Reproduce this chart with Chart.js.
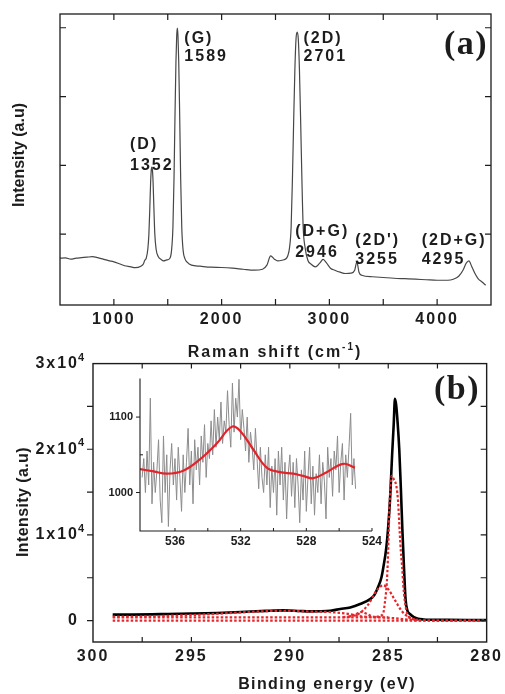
<!DOCTYPE html>
<html><head><meta charset="utf-8">
<script src="https://cdn.jsdelivr.net/npm/chart.js@4.4.1/dist/chart.umd.min.js"></script>
<style>
html,body{margin:0;padding:0;background:#fff;}
#wrap{position:relative;width:505px;height:694px;overflow:hidden;background:#fff;}
canvas{position:absolute;}
#ca{left:0;top:0;}
#cb{left:0;top:340px;}
#ci{left:95px;top:365px;}
</style></head><body>
<div id="wrap">
<canvas id="ca" width="505" height="370"></canvas>
<canvas id="cb" width="505" height="354"></canvas>
<canvas id="ci" width="290" height="190"></canvas>
</div>
<script>
// ---------- Panel (a): Raman spectrum ----------
const ramanShift = [500,550,600,650,700,750,800,850,900,950,1000,1050,1100,1150,1200,1250,1275,1285,1300,1315,1325,1334,1341,1347,1352,1358,1364,1371,1380,1392,1410,1440,1460,1490,1520,1535,1548,1558,1567,1576,1583,1589,1595,1602,1611,1620,1630,1643,1660,1680,1720,1800,1900,2000,2100,2200,2300,2380,2420,2455,2490,2520,2560,2600,2615,2630,2645,2657,2668,2680,2691,2701,2711,2722,2734,2745,2757,2775,2800,2830,2870,2910,2942,2975,3010,3050,3100,3150,3200,3235,3255,3275,3300,3400,3500,3600,3700,3800,3900,4000,4100,4150,4200,4240,4270,4295,4320,4350,4380,4420,4450];
const ramanIntensity = [651,655,636,651,658,665,672,658,636,614,597,570,541,527,512,534,570,615,650,780,1000,1400,1750,1930,1975,1930,1750,1400,1000,780,680,630,612,625,650,760,1100,1800,2700,3500,3880,3995,3880,3500,2700,1800,1100,760,640,592,549,534,520,515,505,490,476,490,549,684,636,611,621,646,690,800,1100,1800,2600,3400,3850,3937,3850,3400,2600,1800,1100,800,621,563,524,578,632,578,505,476,447,428,432,476,597,447,403,381,370,359,352,345,337,330,330,345,388,476,578,611,534,432,355,301,257];
const ramanTickValues = [1000,2000,3000,4000];
const peakNames = ['(D)','(G)','(2D)','(D+G)',"(2D')",'(2D+G)'];
const peakPositions = ['1352','1589','2701','2946','3255','4295'];

// ---------- Panel (b): XPS C1s ----------
const xpsEnergy = [299,298,297,296.2,295,293.7,292.5,291.2,290.3,289.5,289,288.5,287.95,287.44,286.93,286.43,285.92,285.7,285.5,285.35,285.25,285.1,285.0,284.9,284.8,284.72,284.66,284.6,284.52,284.44,284.36,284.28,284.2,284.12,284.03,283.9,283.7,283.48,283.2,282.8,282,281,280];
const xpsEnvelope = [690,700,730,775,820,890,1000,1130,1190,1120,1075,1090,1156,1350,1540,1930,2500,3000,4000,5000,6200,8500,11000,14500,19500,23000,25900,25200,23000,20000,15500,10500,6200,2500,1200,780,400,200,130,100,80,60,50];
const fitC1Energy = [285.6,285.4,285.25,285.15,285.07,285.02,284.98,284.94,284.89,284.83,284.72,284.58,284.5,284.41,284.36,284.29,284.24,284.16,284.03,283.8,283.5];
const fitC1 = [420,550,900,2500,4500,7000,10000,13000,15500,16900,16500,15600,13870,10020,8090,6160,4240,2312,775,250,80];
const fitC2Energy = [287.0,286.5,286.0,285.6,285.25,285.0,284.66,284.33,284.0,283.8,283.5];
const fitC2 = [450,780,1930,3470,4120,3660,2390,1160,450,200,80];
const fitC3Energy = [287.3,286.9,286.6,286.35,286.1,285.85,285.6];
const fitC3 = [400,520,800,1000,800,520,420];
const fitC4Energy = [299,297,296.2,295,293.7,292.5,291.2,290.3,289.5,289,288.5,288,287.5,287,286.4,285.9,285.4,285];
const fitC4 = [460,500,560,640,800,950,1100,1150,1100,1050,1030,1000,900,775,500,420,390,385];
const bgEnergy = [299,287,285.8,285.3,284.8,284.3,283.8,283.3,282.5,280];
const bgValues = [385,385,380,360,300,180,60,20,5,0];
const zeroEnergy = [299,280];
const zeroValues = [0,0];
const xpsTickValuesX = [300,295,290,285,280];
const xpsTickValuesY = [0,10000,20000,30000];
const xpsTickMantissa = ['0','1x10','2x10','3x10'];
const xpsTickExponent = ['','4','4','4'];

// ---------- Inset: O1s region ----------
const insetEnergy = [538.0,537.9,537.8,537.7,537.6,537.5,537.4,537.3,537.2,537.1,537.0,536.9,536.8,536.7,536.6,536.5,536.4,536.3,536.2,536.1,536.0,535.9,535.8,535.7,535.6,535.5,535.4,535.3,535.2,535.1,535.0,534.9,534.8,534.7,534.6,534.5,534.4,534.3,534.2,534.1,534.0,533.9,533.8,533.7,533.6,533.5,533.4,533.3,533.2,533.1,533.0,532.9,532.8,532.7,532.6,532.5,532.4,532.3,532.2,532.1,532.0,531.9,531.8,531.7,531.6,531.5,531.4,531.3,531.2,531.1,531.0,530.9,530.8,530.7,530.6,530.5,530.4,530.3,530.2,530.1,530.0,529.9,529.8,529.7,529.6,529.5,529.4,529.3,529.2,529.1,529.0,528.9,528.8,528.7,528.6,528.5,528.4,528.3,528.2,528.1,528.0,527.9,527.8,527.7,527.6,527.5,527.4,527.3,527.2,527.1,527.0,526.9,526.8,526.7,526.6,526.5,526.4,526.3,526.2,526.1,526.0,525.9,525.8,525.7,525.6,525.5,525.4,525.3,525.2,525.1,525.0];
const insetRaw = [1020,1045,1000,1055,1010,1125,985,1040,1000,1030,1070,990,960,1075,1000,1050,955,1030,1065,1010,1045,990,1060,1020,975,1050,1000,1040,1085,1010,1055,985,1070,1030,1060,1010,1075,1040,1090,1020,1065,1045,1095,1050,1110,1060,1100,1070,1120,1065,1095,1080,1135,1090,1060,1145,1080,1125,1100,1150,1070,1110,1085,1055,1100,1040,1080,1060,1030,1085,1045,1005,1060,1020,1000,1050,1010,1060,980,1035,1000,1045,970,1055,1010,1060,990,1040,965,1025,1050,995,1040,980,1045,1010,960,1030,990,1055,975,1020,1060,985,1035,970,1025,1000,1050,985,1040,1015,965,1060,1020,1045,995,1055,1030,1075,1000,1040,1065,990,1050,1020,1060,1105,1010,1045,1005];
const insetFitEnergy = [538.13,537.3,536.5,535.5,534.48,533.46,532.55,532.04,531.23,530.41,529.6,528.8,528.2,527.57,526.76,525.75,525.04];
const insetFit = [1031,1028,1025,1029,1044,1065,1087,1082,1057,1033,1027,1025,1022,1019,1027,1038,1033];
const insetTickValuesX = [536,532,528,524];
const insetTickValuesY = [1000,1100];

// ---------- helpers ----------
const SANS = "'Liberation Sans', Arial, Helvetica, sans-serif";
const SERIF = "'Liberation Serif', 'Times New Roman', serif";
const INK = '#1c1c1c';
const pts = (xs, ys) => xs.map((x, i) => ({x: x, y: ys[i]}));

function txt(ctx, s, x, y, o) {
  ctx.save();
  ctx.font = o.font; ctx.fillStyle = o.color || INK;
  ctx.letterSpacing = (o.ls || 0) + 'px';
  ctx.textAlign = o.align || 'left'; ctx.textBaseline = o.base || 'middle';
  if (o.rot) { ctx.translate(x, y); ctx.rotate(o.rot); ctx.fillText(s, 0, 0); }
  else ctx.fillText(s, x, y);
  ctx.restore();
}
function supTitle(ctx, parts, cx, cy, fMain, fSup, ls, rise) {
  ctx.save();
  ctx.letterSpacing = ls + 'px'; ctx.fillStyle = INK;
  ctx.textBaseline = 'middle'; ctx.textAlign = 'left';
  let total = 0;
  const w = parts.map(p => { ctx.font = p.sup ? fSup : fMain; const m = ctx.measureText(p.t).width; total += m; return m; });
  let x = cx - total / 2;
  parts.forEach((p, i) => { ctx.font = p.sup ? fSup : fMain; ctx.fillText(p.t, x, p.sup ? cy - rise : cy); x += w[i]; });
  ctx.restore();
}
function frame(ctx, a, lw) {
  ctx.save(); ctx.strokeStyle = INK; ctx.lineWidth = lw;
  ctx.strokeRect(a.left, a.top, a.right - a.left, a.bottom - a.top);
  ctx.restore();
}
function ticks(ctx, scale, values, dir, edge, len, lw) {
  ctx.save(); ctx.strokeStyle = INK; ctx.lineWidth = lw || 1.2;
  ctx.beginPath();
  values.forEach(v => {
    const p = scale.getPixelForValue(v);
    if (dir === 'x') { ctx.moveTo(p, edge); ctx.lineTo(p, edge + len); }
    else { ctx.moveTo(edge, p); ctx.lineTo(edge + len, p); }
  });
  ctx.stroke(); ctx.restore();
}
const spacingPlugin = {
  id: 'spacing',
  beforeDraw(chart, args, opts) { chart.ctx.letterSpacing = (opts.ls || 0) + 'px'; },
  beforeDatasetsDraw(chart) { chart.ctx.letterSpacing = '0px'; }
};

// ---------- panel (a) ----------
const labelPlacementA = [
  {v: 1150, y1: 2296, y2: 1991},
  {v: 1654, y1: 3837, y2: 3575},
  {v: 2760, y1: 3837, y2: 3575},
  {v: 2683, y1: 1031, y2: 726},
  {v: 3240, y1: 900, y2: 624},
  {v: 3857, y1: 900, y2: 624}
];
const decorA = {
  id: 'decorA',
  afterDraw(chart) {
    const ctx = chart.ctx, a = chart.chartArea, x = chart.scales.x, y = chart.scales.y;
    frame(ctx, a, 1.3);
    const yt = [1000, 2000, 3000, 4000];
    ticks(ctx, y, yt, 'y', a.left, 6);
    ticks(ctx, y, yt, 'y', a.right, -6);
    const xt = [1000, 1500, 2000, 2500, 3000, 3500, 4000];
    ticks(ctx, x, xt, 'x', a.top, 6);
    ticks(ctx, x, xt, 'x', a.bottom, -6);
    const f = 'bold 16px ' + SANS;
    labelPlacementA.forEach((p, i) => {
      const px = x.getPixelForValue(p.v);
      txt(ctx, peakNames[i], px, y.getPixelForValue(p.y1), {font: f, ls: 2});
      txt(ctx, peakPositions[i], px, y.getPixelForValue(p.y2), {font: f, ls: 2});
    });
    txt(ctx, '(a)', 466, 45, {font: 'bold 34px ' + SERIF, ls: 1.5, align: 'center'});
    txt(ctx, 'Intensity (a.u)', 20, 155, {font: 'bold 16px ' + SANS, align: 'center', rot: -Math.PI / 2});
    supTitle(ctx, [{t: 'Raman shift (cm'}, {t: '-1', sup: true}, {t: ')'}], 275, 353,
      'bold 16px ' + SANS, 'bold 10px ' + SANS, 2, 6);
  }
};
new Chart(document.getElementById('ca'), {
  type: 'line',
  data: {datasets: [{
    data: pts(ramanShift, ramanIntensity),
    borderColor: '#474747', borderWidth: 1.2, pointRadius: 0,
    cubicInterpolationMode: 'monotone', fill: false
  }]},
  options: {
    responsive: false, animation: false, devicePixelRatio: 1,
    layout: {padding: {left: 60, top: 14, right: 14, bottom: 0}},
    plugins: {legend: {display: false}, tooltip: {enabled: false}, spacing: {ls: 2}},
    scales: {
      x: {type: 'linear', min: 500, max: 4500,
        afterBuildTicks: s => { s.ticks = ramanTickValues.map(v => ({value: v})); },
        afterFit: s => { s.height = 65; },
        grid: {display: false, drawTicks: false}, border: {display: false},
        ticks: {callback: v => String(v), font: {family: SANS, weight: 'bold', size: 16}, color: INK, padding: 5, maxRotation: 0, autoSkip: false}},
      y: {type: 'linear', min: -30, max: 4200, display: false}
    }
  },
  plugins: [spacingPlugin, decorA]
});

// ---------- panel (b) ----------
const decorB = {
  id: 'decorB',
  afterDraw(chart) {
    const ctx = chart.ctx, a = chart.chartArea, x = chart.scales.x, y = chart.scales.y;
    frame(ctx, a, 1.4);
    const yt = [0, 5000, 10000, 15000, 20000, 25000];
    ticks(ctx, y, yt, 'y', a.left, -6);
    ticks(ctx, y, yt, 'y', a.right, -6);
    const xt = [297.5, 295, 292.5, 290, 287.5, 285, 282.5];
    ticks(ctx, x, xt, 'x', a.top, 5);
    ticks(ctx, x, xt, 'x', a.bottom, -5);
    xpsTickValuesY.forEach((v, i) => {
      if (xpsTickExponent[i]) txt(ctx, xpsTickExponent[i], 78, y.getPixelForValue(v) - 6, {font: 'bold 11px ' + SANS});
    });
    txt(ctx, '(b)', 457, 50, {font: 'bold 34px ' + SERIF, ls: 1.5, align: 'center'});
    txt(ctx, 'Intensity (a.u)', 24, 162, {font: 'bold 16px ' + SANS, ls: 0.4, align: 'center', rot: -Math.PI / 2});
    txt(ctx, 'Binding energy (eV)', 327, 345, {font: 'bold 16px ' + SANS, ls: 1.4, align: 'center'});
  }
};
const redDot = {borderColor: '#e5262b', borderWidth: 2.2, borderDash: [2.5, 2], pointRadius: 0, cubicInterpolationMode: 'monotone', fill: false};
new Chart(document.getElementById('cb'), {
  type: 'line',
  data: {datasets: [
    Object.assign({data: pts(fitC1Energy, fitC1)}, redDot),
    Object.assign({data: pts(fitC2Energy, fitC2)}, redDot),
    Object.assign({data: pts(fitC3Energy, fitC3)}, redDot),
    Object.assign({data: pts(fitC4Energy, fitC4)}, redDot),
    Object.assign({data: pts(bgEnergy, bgValues)}, redDot),
    Object.assign({data: pts(zeroEnergy, zeroValues)}, redDot),
    {data: pts(xpsEnergy, xpsEnvelope), borderColor: '#000', borderWidth: 2.6, pointRadius: 0, cubicInterpolationMode: 'monotone', fill: false}
  ]},
  options: {
    responsive: false, animation: false, devicePixelRatio: 1,
    layout: {padding: {left: 0, top: 21, right: 16, bottom: 0}},
    plugins: {legend: {display: false}, tooltip: {enabled: false}, spacing: {ls: 2}},
    scales: {
      x: {type: 'linear', min: 280, max: 300, reverse: true,
        afterBuildTicks: s => { s.ticks = xpsTickValuesX.map(v => ({value: v})); },
        afterFit: s => { s.height = 52; },
        grid: {display: false, drawTicks: false}, border: {display: false},
        ticks: {callback: v => String(v), font: {family: SANS, weight: 'bold', size: 16}, color: INK, padding: 5, maxRotation: 0, autoSkip: false}},
      y: {type: 'linear', min: -2500, max: 30000,
        afterBuildTicks: s => { s.ticks = xpsTickValuesY.map(v => ({value: v})); },
        afterFit: s => { s.width = 93; },
        grid: {display: false, drawTicks: false}, border: {display: false},
        ticks: {callback: v => xpsTickMantissa[xpsTickValuesY.indexOf(v)], font: {family: SANS, weight: 'bold', size: 16}, color: INK, padding: 14}}
    }
  },
  plugins: [spacingPlugin, decorB]
});

// ---------- inset ----------
const decorI = {
  id: 'decorI',
  afterDraw(chart) {
    const ctx = chart.ctx, a = chart.chartArea, x = chart.scales.x, y = chart.scales.y;
    ctx.save(); ctx.strokeStyle = INK; ctx.lineWidth = 1.1;
    ctx.beginPath();
    ctx.moveTo(a.left, a.top); ctx.lineTo(a.left, a.bottom); ctx.lineTo(a.right, a.bottom);
    ctx.stroke(); ctx.restore();
    ticks(ctx, x, [536, 534, 532, 530, 528, 526, 524], 'x', a.bottom, -3, 1);
    ticks(ctx, y, [1000, 1100], 'y', a.left, -4, 1);
    ticks(ctx, y, [1050], 'y', a.left, 3, 1);
  }
};
new Chart(document.getElementById('ci'), {
  type: 'line',
  data: {datasets: [
    {data: pts(insetFitEnergy, insetFit), borderColor: '#e0242a', borderWidth: 2.2, pointRadius: 0, tension: 0.4, fill: false},
    {data: pts(insetEnergy, insetRaw), borderColor: '#8c8c8c', borderWidth: 1, pointRadius: 0, tension: 0, fill: false}
  ]},
  options: {
    responsive: false, animation: false, devicePixelRatio: 1,
    layout: {padding: {left: 0, top: 8, right: 13, bottom: 0}},
    plugins: {legend: {display: false}, tooltip: {enabled: false}},
    scales: {
      x: {type: 'linear', min: 524, max: 538.13, reverse: true,
        afterBuildTicks: s => { s.ticks = insetTickValuesX.map(v => ({value: v})); },
        afterFit: s => { s.height = 24; },
        grid: {display: false, drawTicks: false}, border: {display: false},
        ticks: {callback: v => String(v), font: {family: SANS, weight: 'bold', size: 12}, color: INK, padding: 3, maxRotation: 0, autoSkip: false}},
      y: {type: 'linear', min: 949, max: 1151,
        afterBuildTicks: s => { s.ticks = insetTickValuesY.map(v => ({value: v})); },
        afterFit: s => { s.width = 45; },
        grid: {display: false, drawTicks: false}, border: {display: false},
        ticks: {callback: v => String(v), font: {family: SANS, weight: 'bold', size: 11}, color: INK, padding: 7}}
    }
  },
  plugins: [decorI]
});
</script>
</body></html>
